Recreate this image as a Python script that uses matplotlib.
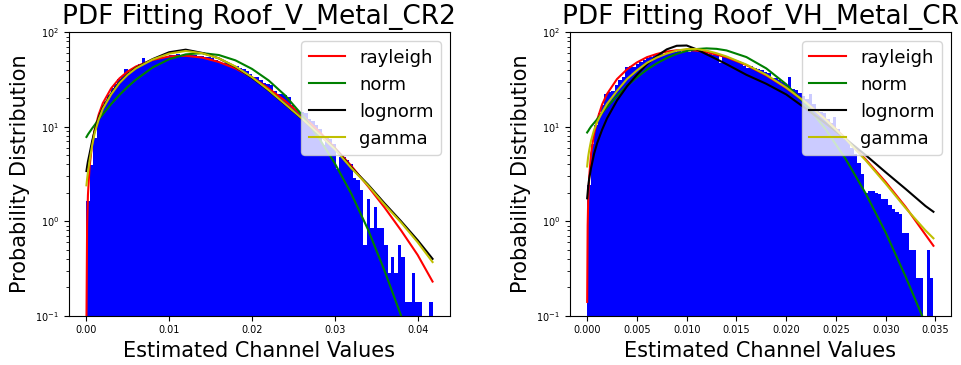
import numpy as np
import matplotlib
matplotlib.use('Agg')
import matplotlib.pyplot as plt

# ---- left panel: Roof_V_Metal_CR2 ----
left_max = 0.0418
left_hist = [1.65, 3.9, 7.7, 12.0, 15.5, 18.5, 21.5, 25.5, 28.5, 32.0,
             34.5, 41.0, 38.0, 40.5, 42.0, 46.0, 54.0, 48.5, 50.0, 52.5,
             54.5, 55.0, 53.5, 56.5, 57.5, 58.0, 58.5, 57.0, 58.5, 57.5,
             57.0, 58.0, 56.5, 56.0, 55.0, 54.5, 53.0, 51.5, 49.0, 47.0,
             48.0, 46.5, 45.0, 43.5, 42.0, 40.5, 38.5, 36.5, 34.0, 34.0,
             31.0, 29.0, 28.5, 27.5, 24.0, 22.0, 22.0, 21.5, 20.5, 17.0,
             15.5, 14.0, 14.5, 14.0, 12.0, 11.5, 10.5, 9.5, 6.4, 8.0,
             7.5, 6.5, 3.6, 4.8, 4.8, 4.5, 4.0, 2.9, 2.7, 2.14,
             0.56, 1.7, 0.84, 1.4, 0.84, 0.84, 0.56, 0.28, 0.42, 0.28,
             0.56, 0.42, 0.14, 0.14, 0.28, 0.14, 0.14, 0.0, 0.0, 0.14]

left_x = [0.00002, 0.0001, 0.0002, 0.0004, 0.0007, 0.001, 0.0015, 0.002, 0.003, 0.004,
          0.005, 0.006, 0.008, 0.010, 0.012, 0.014, 0.016, 0.018, 0.020, 0.022,
          0.024, 0.026, 0.028, 0.030, 0.032, 0.034, 0.036, 0.038, 0.040, 0.0418]
left_rayleigh = [0.09, 0.9, 1.9, 3.8, 6.5, 9.2, 13.5, 17.8, 25.5, 32.5,
                 38.5, 43.5, 51.0, 55.5, 56.5, 54.0, 48.5, 41.5, 33.5, 25.5,
                 18.8, 13.3, 9.1, 6.0, 3.85, 2.35, 1.40, 0.80, 0.44, 0.23]
left_norm = [7.8, 8.0, 8.3, 8.8, 9.6, 10.4, 12.0, 13.6, 17.4, 21.7,
             26.5, 31.6, 42.4, 51.9, 58.4, 60.2, 57.5, 50.5, 41.0, 31.0,
             21.5, 13.5, 7.8, 4.1, 1.95, 0.82, 0.30, 0.10, 0.03, 0.009]
left_lognorm = [3.4, 3.8, 4.3, 5.2, 7.0, 9.0, 12.6, 16.0, 22.5, 29.5,
                36.0, 42.0, 52.0, 61.5, 65.5, 60.5, 53.0, 43.0, 33.0, 24.2,
                17.2, 12.2, 8.5, 5.9, 3.7, 2.45, 1.55, 1.0, 0.63, 0.40]
left_gamma = [2.4, 2.8, 3.3, 4.4, 6.3, 8.5, 12.0, 15.5, 22.0, 29.0,
              35.5, 41.5, 51.5, 59.5, 63.5, 60.0, 53.0, 43.5, 33.5, 24.5,
              17.4, 12.3, 8.5, 5.8, 3.65, 2.4, 1.5, 0.97, 0.6, 0.37]

# ---- right panel: Roof_VH_Metal_CR ----
right_max = 0.0348
right_hist = [2.4, 6.5, 10.5, 14.0, 17.0, 22.5, 23.5, 24.0, 28.0, 31.0,
              34.0, 43.0, 44.0, 43.0, 46.0, 48.0, 51.0, 53.0, 55.0, 57.0,
              57.5, 60.0, 59.5, 61.0, 62.0, 61.5, 63.0, 62.5, 63.5, 62.0,
              65.0, 63.5, 62.0, 61.5, 60.5, 59.5, 58.0, 57.0, 47.0, 55.0,
              53.5, 52.0, 50.5, 49.0, 47.5, 44.0, 42.0, 43.5, 42.0, 40.5,
              39.5, 38.0, 37.0, 33.0, 33.0, 31.5, 30.0, 28.0, 33.5, 25.0,
              24.5, 23.0, 21.0, 19.5, 22.5, 17.5, 15.5, 14.5, 14.0, 12.0,
              11.0, 12.8, 9.5, 8.0, 7.5, 7.0, 6.0, 5.2, 4.1, 3.2,
              2.0, 2.1, 2.1, 2.0, 1.95, 1.7, 1.7, 1.5, 1.35, 1.25,
              1.2, 0.75, 0.75, 0.5, 0.5, 0.25, 0.25, 0.0, 0.5, 0.25]

right_x = [0.0, 0.00005, 0.0001, 0.0002, 0.0004, 0.0007, 0.001, 0.0015, 0.002, 0.003,
           0.004, 0.005, 0.006, 0.007, 0.008, 0.009, 0.010, 0.011, 0.012, 0.013,
           0.014, 0.016, 0.018, 0.020, 0.022, 0.024, 0.026, 0.028, 0.030, 0.032,
           0.034, 0.0348]
right_rayleigh = [0.14, 0.9, 1.6, 2.9, 5.3, 8.5, 11.8, 17.2, 22.3, 32.0,
                  40.5, 48.0, 54.5, 59.0, 62.5, 64.5, 65.0, 64.0, 61.5, 58.0,
                  54.5, 45.0, 35.0, 25.8, 18.0, 11.9, 7.5, 4.5, 2.6, 1.42,
                  0.72, 0.55]
right_norm = [8.7, 8.9, 9.0, 9.4, 10.1, 11.0, 12.0, 14.0, 16.2, 21.2,
              27.0, 33.4, 40.2, 47.0, 53.4, 59.1, 63.6, 66.5, 67.6, 66.8,
              64.3, 54.7, 41.5, 28.2, 17.1, 9.3, 4.52, 1.96, 0.76, 0.26,
              0.082, 0.05]
right_lognorm = [1.75, 2.0, 2.3, 2.8, 3.7, 5.2, 6.7, 9.3, 12.3, 19.0,
                 26.8, 35.5, 45.8, 56.0, 66.0, 72.0, 72.5, 66.0, 58.5, 52.0,
                 46.0, 35.5, 28.5, 22.0, 15.5, 10.8, 7.4, 5.0, 3.3, 2.2,
                 1.45, 1.26]
right_gamma = [3.8, 4.3, 4.8, 5.6, 7.2, 9.3, 11.2, 14.2, 17.5, 24.0,
               32.0, 39.5, 47.5, 54.0, 59.5, 64.0, 66.5, 66.5, 64.0, 60.0,
               55.5, 45.5, 35.5, 26.0, 18.0, 11.8, 7.4, 4.4, 2.5, 1.38,
               0.8, 0.66]

panels = [
    ('PDF Fitting Roof_V_Metal_CR2', left_max, left_hist, left_x,
     left_rayleigh, left_norm, left_lognorm, left_gamma),
    ('PDF Fitting Roof_VH_Metal_CR', right_max, right_hist, right_x,
     right_rayleigh, right_norm, right_lognorm, right_gamma),
]

fig, axes = plt.subplots(1, 2, figsize=(9.62, 3.65), dpi=100)
fig.subplots_adjust(left=0.0717, right=0.9883, bottom=0.135, top=0.9115, wspace=0.315)

for ax, (title, vmax, hist, xs, ray, nrm, lgn, gam) in zip(axes, panels):
    edges = np.linspace(0, vmax, len(hist) + 1)
    centers = (edges[:-1] + edges[1:]) / 2
    ax.hist(centers, bins=edges, weights=hist, histtype='stepfilled', color='b')
    ax.plot(xs, ray, 'r', label='rayleigh')
    ax.plot(xs, nrm, 'g', label='norm')
    ax.plot(xs, lgn, 'k', label='lognorm')
    ax.plot(xs, gam, 'y', label='gamma')
    ax.set_yscale('log')
    ax.set_ylim(0.1, 100)
    ax.set_title(title, fontsize=19)
    ax.set_xlabel('Estimated Channel Values', fontsize=15)
    ax.set_ylabel('Probability Distribution', fontsize=15)
    ax.tick_params(labelsize=7)
    ax.legend(loc='upper right', fontsize=13)

fig.savefig('out.png', dpi=100)
